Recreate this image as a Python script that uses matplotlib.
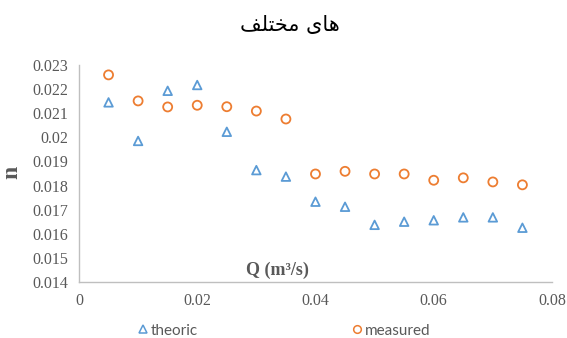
import numpy as np
import matplotlib
matplotlib.use("Agg")
import matplotlib.pyplot as plt
from matplotlib.lines import Line2D

# flow rate Q (m3/s)
q = [0.005, 0.01, 0.015, 0.02, 0.025, 0.03, 0.035, 0.04,
     0.045, 0.05, 0.055, 0.06, 0.065, 0.07, 0.075]
# manning n, theoric
n_theoric = [0.02145, 0.01985, 0.02193, 0.02217, 0.02023, 0.01864, 0.01837, 0.01733,
             0.01712, 0.01637, 0.0165, 0.01656, 0.01668, 0.01668, 0.01625]
# manning n, measured
n_measured = [0.02259, 0.02151, 0.02126, 0.02133, 0.02127, 0.02109, 0.02076, 0.01848,
              0.01859, 0.01848, 0.01848, 0.01822, 0.01832, 0.01815, 0.01803]

x_ticks = [0, 0.02, 0.04, 0.06, 0.08]
x_labels = ["0", "0.02", "0.04", "0.06", "0.08"]
y_ticks = [0.014, 0.015, 0.016, 0.017, 0.018, 0.019, 0.02, 0.021, 0.022, 0.023]
y_labels = ["0.014", "0.015", "0.016", "0.017", "0.018", "0.019", "0.02", "0.021", "0.022", "0.023"]

# "های مختلف" in shaped presentation forms, visual order
title = "\uFED2\uFEE0\uFE98\uFEA8\uFEE3 \uFEEF\uFE8E\uFEEB"

blue = "#5B9BD5"
orange = "#ED7D31"
grey = "#595959"

fig = plt.figure(figsize=(5.67, 3.38), dpi=100)
ax = fig.add_axes([0.1393, 0.1657, 0.8342, 0.642])

ax.scatter(q, n_theoric, marker="^", s=38, facecolors="none", edgecolors=blue, linewidths=1.3, label="theoric")
ax.scatter(q, n_measured, marker="o", s=42, facecolors="none", edgecolors=orange, linewidths=1.3, label="measured")

ax.set_xlim(0, 0.08)
ax.set_ylim(0.014, 0.023)
ax.set_xticks(x_ticks)
ax.set_xticklabels(x_labels)
ax.set_yticks(y_ticks)
ax.set_yticklabels(y_labels)
ax.tick_params(length=0, labelsize=11.5, colors=grey, pad=8)
for lab in ax.get_xticklabels() + ax.get_yticklabels():
    lab.set_family("Liberation Serif")

for side in ["top", "right"]:
    ax.spines[side].set_visible(False)
for side in ["left", "bottom"]:
    ax.spines[side].set_color("#BFBFBF")
    ax.spines[side].set_linewidth(1.0)

ax.text(0.0335, 0.0145, "Q (m³/s)", family="Liberation Serif", fontweight="bold",
        fontsize=13, color=grey, ha="center", va="center")
fig.text(0.021, 0.49, "n", family="Liberation Serif", fontweight="bold", fontsize=17,
         color=grey, rotation=90, ha="center", va="center")

fig.text(0.512, 0.925, title, family="DejaVu Sans", fontsize=15, color="black",
         ha="center", va="center")

handles = [Line2D([], [], ls="none", marker="^", mfc="none", mec=blue, mew=1.1, ms=5.5),
           Line2D([], [], ls="none", marker="o", mfc="none", mec=orange, mew=1.1, ms=5.5)]
fig.legend(handles, ["theoric", "measured"], loc="center", bbox_to_anchor=(0.5, 0.022),
           ncol=2, frameon=False, columnspacing=10.0, handletextpad=0.1, handlelength=0.8,
           prop={"family": "Lato", "size": 11}, labelcolor=grey)

fig.savefig("out.png", dpi=100)
